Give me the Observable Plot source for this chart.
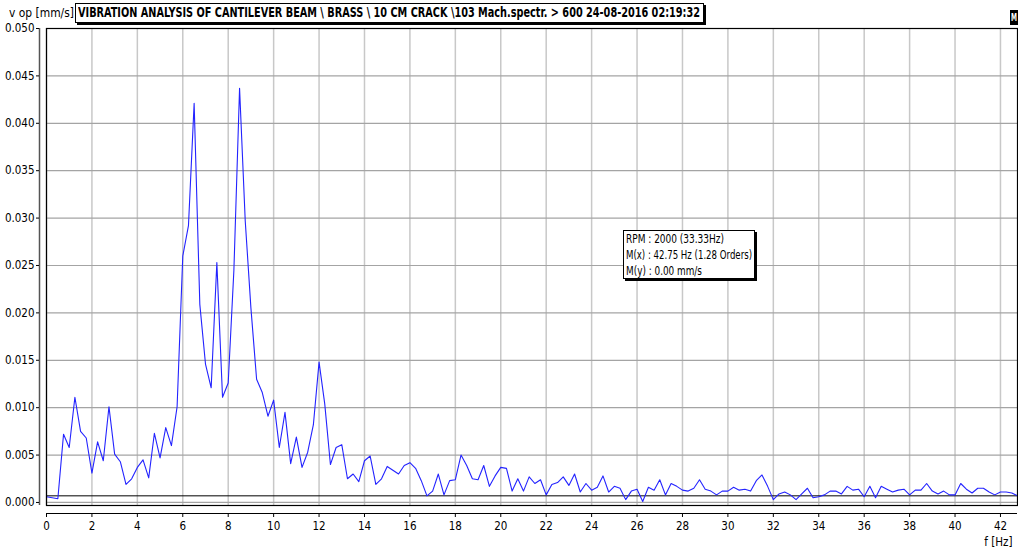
<!DOCTYPE html>
<html>
<head>
<meta charset="utf-8">
<script src="https://cdn.jsdelivr.net/npm/d3@7"></script>
<script src="https://cdn.jsdelivr.net/npm/@observablehq/plot@0.6"></script>
<style>
  body { margin: 0; background: #fff; }
  #wrap {
    position: relative; width: 1018px; height: 550px; overflow: hidden;
    font-family: "Liberation Sans Narrow", "DejaVu Sans Condensed", "Liberation Sans", Arial, sans-serif;
    color: #000;
  }
  #wrap svg { position: absolute; left: 0; top: 0; }
  .box { position: absolute; background: #fff; border: 1px solid #000; box-shadow: 2px 2px 0 #000; white-space: nowrap; }
  .fit { position: absolute; white-space: nowrap; transform-origin: 0 50%; }
</style>
</head>
<body>
<div id="wrap"></div>
<script>
// Machine spectrum, 0.25 Hz resolution, amplitude in mm/s (vibration velocity, 0-peak)
const binWidthHz = 0.25;
const velocity = [
  0.0006, 0.0005, 0.0004, 0.0072, 0.0058, 0.0111, 0.0075, 0.0068,  //  0 - 1.75 Hz
  0.0031, 0.0064, 0.0044, 0.0101, 0.0051, 0.0043, 0.0019, 0.0025,  //  2 - 3.75
  0.0037, 0.0045, 0.0026, 0.0073, 0.0047, 0.0079, 0.0060, 0.0101,  //  4 - 5.75
  0.0260, 0.0292, 0.0421, 0.0209, 0.0146, 0.0121, 0.0253, 0.0111,  //  6 - 7.75
  0.0126, 0.0245, 0.0437, 0.0297, 0.0205, 0.0130, 0.0116, 0.0091,  //  8 - 9.75
  0.0108, 0.0058, 0.0095, 0.0041, 0.0069, 0.0037, 0.0053, 0.0082,  // 10 - 11.75
  0.0148, 0.0104, 0.0040, 0.0058, 0.0061, 0.0025, 0.0030, 0.0022,  // 12 - 13.75
  0.0044, 0.0049, 0.0019, 0.0025, 0.0038, 0.0034, 0.0030, 0.0039,  // 14 - 15.75
  0.0042, 0.0036, 0.0023, 0.0007, 0.0012, 0.0030, 0.0008, 0.0023,  // 16 - 17.75
  0.0024, 0.0050, 0.0039, 0.0025, 0.0024, 0.0039, 0.0017, 0.0028,  // 18 - 19.75
  0.0037, 0.0036, 0.0012, 0.0025, 0.0012, 0.0027, 0.0020, 0.0024,  // 20 - 21.75
  0.0008, 0.0019, 0.0021, 0.0027, 0.0018, 0.0030, 0.0011, 0.0020,  // 22 - 23.75
  0.0013, 0.0016, 0.0028, 0.0011, 0.0017, 0.0015, 0.0003, 0.0012,  // 24 - 25.75
  0.0014, 0.0001, 0.0016, 0.0013, 0.0024, 0.0008, 0.0020, 0.0017,  // 26 - 27.75
  0.0013, 0.0012, 0.0015, 0.0024, 0.0014, 0.0012, 0.0008, 0.0012,  // 28 - 29.75
  0.0012, 0.0016, 0.0013, 0.0014, 0.0012, 0.0023, 0.0029, 0.0017,  // 30 - 31.75
  0.0003, 0.0009, 0.0011, 0.0008, 0.0003, 0.0009, 0.0015, 0.0005,  // 32 - 33.75
  0.0006, 0.0008, 0.0012, 0.0012, 0.0009, 0.0017, 0.0013, 0.0014,  // 34 - 35.75
  0.0006, 0.0017, 0.0005, 0.0017, 0.0014, 0.0011, 0.0013, 0.0014,  // 36 - 37.75
  0.0008, 0.0013, 0.0013, 0.0020, 0.0012, 0.0009, 0.0012, 0.0008,  // 38 - 39.75
  0.0008, 0.0020, 0.0014, 0.0010, 0.0015, 0.0015, 0.0011, 0.0008,  // 40 - 41.75
  0.0011, 0.0011, 0.0010, 0.0007                                   // 42 - 42.75
];

const xTicks = [0, 2, 4, 6, 8, 10, 12, 14, 16, 18, 20, 22, 24, 26, 28, 30, 32, 34, 36, 38, 40, 42];
const yTicks = [0, 0.005, 0.010, 0.015, 0.020, 0.025, 0.030, 0.035, 0.040, 0.045, 0.050];
const yTickLabels = ["0.000", "0.005", "0.010", "0.015", "0.020", "0.025", "0.030", "0.035", "0.040", "0.045", "0.050"];
const xMax = 42.75;
const yLow = -0.00032;        // frame extends a little below zero
const cursorLevel = 0.0007;   // horizontal cursor line

const titleText = "VIBRATION ANALYSIS OF CANTILEVER BEAM \\ BRASS \\ 10 CM CRACK \\103 Mach.spectr. > 600 24-08-2016 02:19:32";
const yAxisTitle = "v op [mm/s]";
const xAxisTitle = "f [Hz]";
const infoLines = ["RPM : 2000 (33.33Hz)", "M(x) : 42.75 Hz (1.28 Orders)", "M(y) : 0.00 mm/s"];
const markerTag = "M";

const spectrum = velocity.map((v, i) => ({f: i * binWidthHz, v}));

const fontStack = '"Liberation Sans Narrow", "DejaVu Sans Condensed", "Liberation Sans", Arial, sans-serif';

const chart = Plot.plot({
  width: 1018,
  height: 550,
  marginLeft: 46,
  marginRight: 1,
  marginTop: 28,
  marginBottom: 45,
  style: {fontFamily: fontStack, fontSize: "11.5px", color: "#000", background: "transparent"},
  x: {domain: [0, xMax], label: null},
  y: {domain: [yLow, 0.05], label: null},
  marks: [
    Plot.gridX(xTicks, {stroke: "#c8c8c8", strokeOpacity: 1, strokeWidth: 1.5}),
    Plot.gridY(yTicks, {stroke: "#a4a4a4", strokeOpacity: 1, strokeWidth: 1.2}),
    Plot.ruleY([cursorLevel], {stroke: "#000", strokeWidth: 1}),
    Plot.line(spectrum, {x: "f", y: "v", stroke: "#2323ff", strokeWidth: 1.1}),
    Plot.frame({stroke: "#000", strokeWidth: 1.2}),
    // detached y axis line with ticks on its left
    Plot.ruleX([0], {dx: -7, stroke: "#555", strokeWidth: 1.5}),
    Plot.axisY(yTicks, {dx: -7, tickSize: 3, tickPadding: 2, tickFormat: (d, i) => yTickLabels[i], stroke: "#000"}),
    // detached x axis line below the frame
    Plot.ruleY([yLow], {dy: 8, stroke: "#000", strokeWidth: 1.2}),
    Plot.axisX(xTicks, {dy: 8, tickSize: 4, tickPadding: 4, stroke: "#000"}),
    Plot.text([xAxisTitle], {frameAnchor: "bottom-right", dx: -5, dy: 37, textAnchor: "end", lineAnchor: "middle", fontSize: 11.5})
  ]
});

const wrap = document.getElementById("wrap");
wrap.appendChild(chart);

// header and readout boxes (HTML overlays)
function addFit(parent, text, left, top, width, font, lineHeight) {
  const s = document.createElement("span");
  s.className = "fit";
  s.textContent = text;
  s.style.left = left + "px";
  s.style.top = top + "px";
  s.style.font = font;
  s.style.lineHeight = lineHeight + "px";
  parent.appendChild(s);
  const w = s.getBoundingClientRect().width;
  if (w > 0) s.style.transform = `scaleX(${width / w})`;
  return s;
}

addFit(wrap, yAxisTitle, 9, 5, 65, `12px ${fontStack}`, 16);

const titleBox = document.createElement("div");
titleBox.className = "box";
Object.assign(titleBox.style, {left: "75px", top: "3px", width: "627px", height: "18px"});
wrap.appendChild(titleBox);
addFit(wrap, titleText, 78, 3, 622, `bold 14px ${fontStack}`, 19);

const infoBox = document.createElement("div");
infoBox.className = "box";
Object.assign(infoBox.style, {left: "623px", top: "230px", width: "130px", height: "47px"});
wrap.appendChild(infoBox);
const infoWidths = [98, 126, 76];
infoLines.forEach((t, i) => addFit(wrap, t, 626, 231 + i * 16, infoWidths[i], `12px ${fontStack}`, 16));

// small marker tag in the top-right corner
const tag = document.createElement("div");
Object.assign(tag.style, {position: "absolute", left: "1010px", top: "10px", width: "8px", height: "15px",
  background: "#000", overflow: "hidden"});
wrap.appendChild(tag);
addFit(tag, markerTag, 1, 1, 6, `bold 11px ${fontStack}`, 13).style.color = "#fff";
</script>
</body>
</html>
